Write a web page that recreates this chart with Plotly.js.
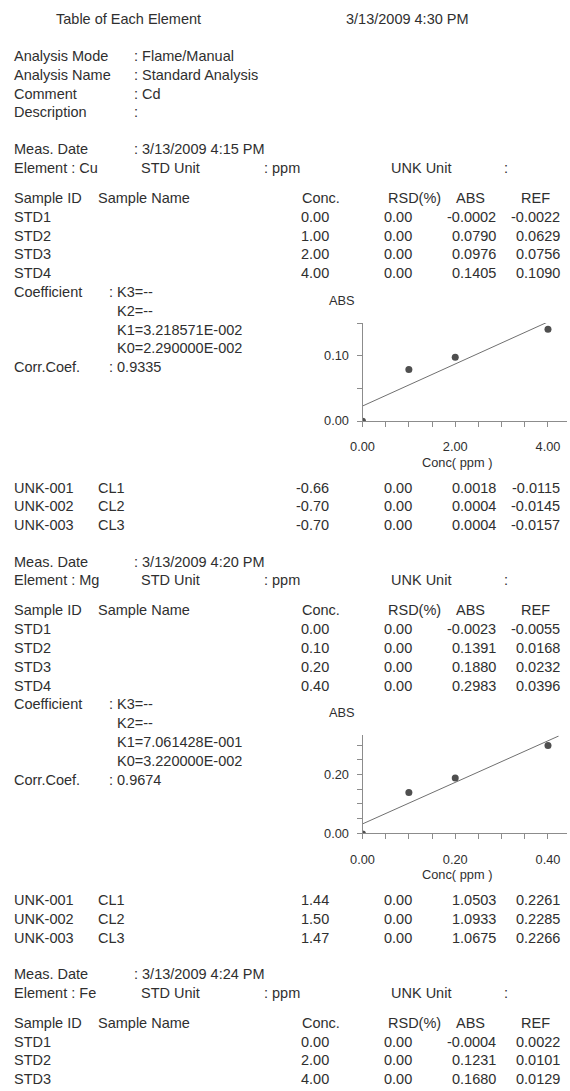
<!DOCTYPE html>
<html>
<head>
<meta charset="utf-8">
<script src="https://cdn.plot.ly/plotly-3.0.1.min.js"></script>
<style>
html,body{margin:0;padding:0;background:#ffffff;}
#chart{width:570px;height:1091px;}
</style>
</head>
<body>
<div id="chart"></div>
<script>
// ---------- report header ----------
const reportTitle = 'Table of Each Element';
const reportDate = '3/13/2009 4:30 PM';
const infoLabels = ['Analysis Mode', 'Analysis Name', 'Comment', 'Description'];
const infoValues = [': Flame/Manual', ': Standard Analysis', ': Cd', ':'];
const tableHeaders = ['Sample ID', 'Sample Name', 'Conc.', 'RSD(%)', 'ABS', 'REF'];
const stdIds = ['STD1', 'STD2', 'STD3', 'STD4'];
const unkIds = ['UNK-001', 'UNK-002', 'UNK-003'];
const unkNames = ['CL1', 'CL2', 'CL3'];
const coefNames = ['K3', 'K2', 'K1', 'K0'];

// ---------- Cu ----------
const cuMeasDate = '3/13/2009 4:15 PM';
const cuStdConc = [0.00, 1.00, 2.00, 4.00];
const cuStdRsd = [0.00, 0.00, 0.00, 0.00];
const cuStdAbs = [-0.0002, 0.0790, 0.0976, 0.1405];
const cuStdRef = [-0.0022, 0.0629, 0.0756, 0.1090];
const cuCoef = ['--', '--', '3.218571E-002', '2.290000E-002'];
const cuCorr = '0.9335';
const cuUnkConc = [-0.66, -0.70, -0.70];
const cuUnkRsd = [0.00, 0.00, 0.00];
const cuUnkAbs = [0.0018, 0.0004, 0.0004];
const cuUnkRef = [-0.0115, -0.0145, -0.0157];
const cuFitX = [0, 4.1];
const cuFitY = [0.0229, 0.1549];

// ---------- Mg ----------
const mgMeasDate = '3/13/2009 4:20 PM';
const mgStdConc = [0.00, 0.10, 0.20, 0.40];
const mgStdRsd = [0.00, 0.00, 0.00, 0.00];
const mgStdAbs = [-0.0023, 0.1391, 0.1880, 0.2983];
const mgStdRef = [-0.0055, 0.0168, 0.0232, 0.0396];
const mgCoef = ['--', '--', '7.061428E-001', '3.220000E-002'];
const mgCorr = '0.9674';
const mgUnkConc = [1.44, 1.50, 1.47];
const mgUnkRsd = [0.00, 0.00, 0.00];
const mgUnkAbs = [1.0503, 1.0933, 1.0675];
const mgUnkRef = [0.2261, 0.2285, 0.2266];
const mgFitX = [0, 0.423];
const mgFitY = [0.0322, 0.3309];

// ---------- Fe ----------
const feMeasDate = '3/13/2009 4:24 PM';
const feStdConc = [0.00, 2.00, 4.00];
const feStdRsd = [0.00, 0.00, 0.00];
const feStdAbs = [-0.0004, 0.1231, 0.1680];
const feStdRef = [0.0022, 0.0101, 0.0129];

// ---------- page geometry ----------
const W = 570, H = 1091;
const FONT = 'Liberation Sans, Arial, Helvetica, sans-serif';
const INK = '#2f2f2f';
const AXIS = '#8c8c8c';
const ROW = 18.8;
const TXT = 14.5, SMALL = 12.8;

const annotations = [];
function txt(x, y, s, anchor, size) {
  annotations.push({
    xref: 'paper', yref: 'paper', x: x / W, y: 1 - y / H,
    text: s, showarrow: false, xanchor: anchor || 'left', yanchor: 'middle',
    borderpad: 0, font: {family: FONT, size: size || TXT, color: INK}
  });
}
const f2 = v => v.toFixed(2);
const f4 = v => v.toFixed(4);

// columns (px)
const C = {label: 13, colon: 133, stdUnit: 140, ppm: 263, unkUnit: 390, unkColon: 503,
  name: 97, concH: 301, rsdH: 387, absH: 455, refH: 520,
  conc: 330, rsd: 413, abs: 497, ref: 561, coefColon: 108, coefK: 116};

// header
txt(55, 19, reportTitle);
txt(345, 19, reportDate);
infoLabels.forEach((l, i) => {
  txt(C.label, 56 + ROW * i, l);
  txt(C.colon, 56 + ROW * i, infoValues[i]);
});

function section(y0, elem, meas, conc, rsd, abs, ref, coef, corr, uConc, uRsd, uAbs, uRef) {
  txt(C.label, y0, 'Meas. Date');
  txt(C.colon, y0, ': ' + meas);
  const ye = y0 + ROW;
  txt(C.label, ye, 'Element : ' + elem);
  txt(C.stdUnit, ye, 'STD Unit');
  txt(C.ppm, ye, ': ppm');
  txt(C.unkUnit, ye, 'UNK Unit');
  txt(C.unkColon, ye, ':');
  const yh = ye + 30;
  txt(C.label, yh, tableHeaders[0]);
  txt(C.name, yh, tableHeaders[1]);
  txt(C.concH, yh, tableHeaders[2]);
  txt(C.rsdH, yh, tableHeaders[3]);
  txt(C.absH, yh, tableHeaders[4]);
  txt(C.refH, yh, tableHeaders[5]);
  conc.forEach((c, i) => {
    const y = yh + ROW * (i + 1);
    txt(C.label, y, stdIds[i]);
    txt(C.conc, y, f2(c), 'right');
    txt(C.rsd, y, f2(rsd[i]), 'right');
    txt(C.abs, y, f4(abs[i]), 'right');
    txt(C.ref, y, f4(ref[i]), 'right');
  });
  if (coef) {
    const yc = yh + ROW * 5;
    txt(C.label, yc, 'Coefficient');
    coef.forEach((k, i) => {
      const y = yc + ROW * i;
      if (i === 0) txt(C.coefColon, y, ': ' + coefNames[i] + '=' + k);
      else txt(C.coefK, y, coefNames[i] + '=' + k);
    });
    txt(C.label, yc + ROW * 4, 'Corr.Coef.');
    txt(C.coefColon, yc + ROW * 4, ': ' + corr);
  }
  if (uConc) {
    const yu = y0 + 338.3;
    uConc.forEach((c, i) => {
      const y = yu + ROW * i;
      txt(C.label, y, unkIds[i]);
      txt(C.name, y, unkNames[i]);
      txt(C.conc, y, f2(c), 'right');
      txt(C.rsd, y, f2(uRsd[i]), 'right');
      txt(C.abs, y, f4(uAbs[i]), 'right');
      txt(C.ref, y, f4(uRef[i]), 'right');
    });
    return yu;
  }
  return null;
}

const cuY0 = 149.2, mgY0 = 561.6, feY0 = 974;
const cuUnk = section(cuY0, 'Cu', cuMeasDate, cuStdConc, cuStdRsd, cuStdAbs, cuStdRef, cuCoef, cuCorr, cuUnkConc, cuUnkRsd, cuUnkAbs, cuUnkRef);
const mgUnk = section(mgY0, 'Mg', mgMeasDate, mgStdConc, mgStdRsd, mgStdAbs, mgStdRef, mgCoef, mgCorr, mgUnkConc, mgUnkRsd, mgUnkAbs, mgUnkRef);
section(feY0, 'Fe', feMeasDate, feStdConc, feStdRsd, feStdAbs, feStdRef, null, null, null);

// chart frames (pixel geometry)
const AX_L = 362.5, AX_R = 567, PLOT_H = 98;
function chartAxes(zeroY, xMax, yMax, xMajor, xMinor, yMajor, yMinor) {
  const xa = {
    domain: [AX_L / W, AX_R / W], range: [0, xMax], showline: true, linecolor: AXIS, linewidth: 1,
    ticks: 'outside', ticklen: 5, tickcolor: AXIS, tickwidth: 1, tick0: 0, dtick: xMajor,
    tickformat: '.2f', showgrid: false, zeroline: false, fixedrange: true,
    ticklabelstandoff: 9,
    tickfont: {family: FONT, size: SMALL, color: INK},
    minor: {tick0: 0, dtick: xMinor, ticks: 'outside', ticklen: 5, tickcolor: AXIS, tickwidth: 1, showgrid: false}
  };
  const ya = {
    domain: [1 - zeroY / H, 1 - (zeroY - PLOT_H) / H], range: [0, yMax], showline: true, linecolor: AXIS, linewidth: 1,
    ticks: 'outside', ticklen: 5, tickcolor: AXIS, tickwidth: 1, tick0: 0, dtick: yMajor,
    tickformat: '.2f', showgrid: false, zeroline: false, fixedrange: true,
    ticklabelstandoff: 5,
    tickfont: {family: FONT, size: SMALL, color: INK},
    minor: {tick0: 0, dtick: yMinor, ticks: 'outside', ticklen: 5, tickcolor: AXIS, tickwidth: 1, showgrid: false}
  };
  txt(341.7, zeroY - 120.5, 'ABS', 'center', SMALL);
  txt(457, zeroY + 41, 'Conc( ppm )', 'center', SMALL);
  return [xa, ya];
}

const cuZero = cuUnk - 66.5;
const mgZero = mgUnk - 66.5;
const [xa1, ya1] = chartAxes(cuZero, 4.41, 0.15, 2, 0.5, 0.1, 0.05);
const [xa2, ya2] = chartAxes(mgZero, 0.441, 0.333, 0.2, 0.05, 0.2, 0.05);
xa1.anchor = 'y'; ya1.anchor = 'x';
xa2.anchor = 'y2'; ya2.anchor = 'x2';

const dot = {color: '#4f4f4f', size: 7};
const fitLine = {color: '#707070', width: 1};
const traces = [
  {x: cuFitX, y: cuFitY, mode: 'lines', line: fitLine, xaxis: 'x', yaxis: 'y', hoverinfo: 'skip'},
  {x: cuStdConc, y: cuStdAbs, mode: 'markers', marker: dot, xaxis: 'x', yaxis: 'y'},
  {x: mgFitX, y: mgFitY, mode: 'lines', line: fitLine, xaxis: 'x2', yaxis: 'y2', hoverinfo: 'skip'},
  {x: mgStdConc, y: mgStdAbs, mode: 'markers', marker: dot, xaxis: 'x2', yaxis: 'y2'}
];

const layout = {
  width: W, height: H, margin: {l: 0, r: 0, t: 0, b: 0},
  paper_bgcolor: '#ffffff', plot_bgcolor: 'rgba(0,0,0,0)',
  showlegend: false,
  font: {family: FONT, size: TXT, color: INK},
  xaxis: xa1, yaxis: ya1, xaxis2: xa2, yaxis2: ya2,
  annotations: annotations
};

Plotly.newPlot('chart', traces, layout, {displayModeBar: false, staticPlot: true});
</script>
</body>
</html>
